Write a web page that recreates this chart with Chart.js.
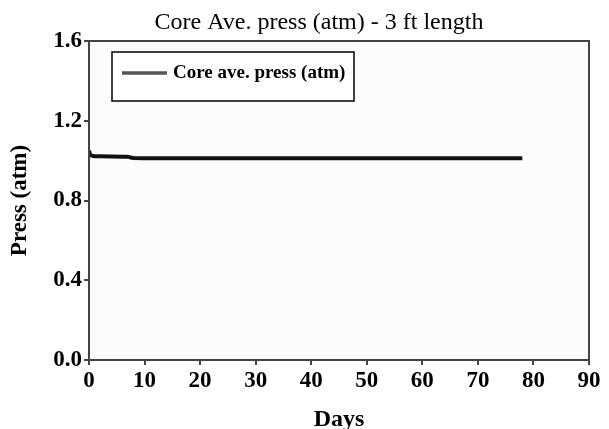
<!DOCTYPE html>
<html>
<head>
<meta charset="utf-8">
<script src="https://cdn.jsdelivr.net/npm/chart.js@4/dist/chart.umd.min.js"></script>
<style>
	body { margin: 0; background: #fff; }
	canvas { display: block; }
</style>
</head>
<body>
<canvas id="chart" width="609" height="429"></canvas>
<script>
// core average pressure vs time
var days = [0, 0.2, 0.5, 1, 2, 4, 6, 7, 7.5, 8, 10, 20, 30, 40, 50, 60, 70, 78];
var press = [1.05, 1.03, 1.025, 1.022, 1.022, 1.021, 1.02, 1.02, 1.016, 1.013, 1.012, 1.012, 1.012, 1.012, 1.012, 1.012, 1.012, 1.012];
var seriesName = 'Core ave. press (atm)';
var chartTitle = 'Core Ave. press (atm) - 3 ft length';
var xTicks = [0, 10, 20, 30, 40, 50, 60, 70, 80, 90];
var yTicks = [0, 0.4, 0.8, 1.2, 1.6];

var serif = '"Liberation Serif", "Times New Roman", serif';
var axisColor = '#444';

var points = [];
for (var i = 0; i < days.length; i++) {
	points.push({ x: days[i], y: press[i] });
}

// background + frame around the plot area
var frame = {
	id: 'frame',
	beforeDraw: function(chart) {
		var a = chart.chartArea, ctx = chart.ctx;
		ctx.save();
		ctx.fillStyle = '#fcfcfc';
		ctx.fillRect(a.left, a.top, a.right - a.left, a.bottom - a.top);
		ctx.restore();
	},
	afterDraw: function(chart) {
		var a = chart.chartArea, ctx = chart.ctx;
		ctx.save();
		ctx.strokeStyle = axisColor;
		ctx.lineWidth = 2;
		ctx.strokeRect(a.left, a.top, a.right - a.left, a.bottom - a.top);
		ctx.restore();
	}
};

// title above the plot
var topTitle = {
	id: 'topTitle',
	afterDraw: function(chart) {
		var ctx = chart.ctx;
		ctx.save();
		ctx.font = '24px ' + serif;
		ctx.fillStyle = '#000';
		ctx.textAlign = 'center';
		ctx.textBaseline = 'alphabetic';
		ctx.fillText(chartTitle, 319, 29);
		ctx.restore();
	}
};

// boxed legend inside the plot
var boxLegend = {
	id: 'boxLegend',
	afterDraw: function(chart) {
		var a = chart.chartArea, ctx = chart.ctx;
		var ds = chart.data.datasets[0];
		var x = a.left + 23, y = a.top + 11, w = 242, h = 49;
		ctx.save();
		ctx.fillStyle = '#fff';
		ctx.fillRect(x, y, w, h);
		ctx.strokeStyle = '#000';
		ctx.lineWidth = 1.5;
		ctx.strokeRect(x, y, w, h);
		ctx.strokeStyle = '#555';
		ctx.lineWidth = 3.5;
		ctx.beginPath();
		ctx.moveTo(x + 10, y + 21);
		ctx.lineTo(x + 55, y + 21);
		ctx.stroke();
		ctx.font = 'bold 19px ' + serif;
		ctx.fillStyle = '#000';
		ctx.textBaseline = 'middle';
		ctx.fillText(ds.label, x + 61, y + 21);
		ctx.restore();
	}
};

new Chart(document.getElementById('chart'), {
	type: 'line',
	data: {
		datasets: [{
			label: seriesName,
			data: points,
			borderColor: '#111',
			borderWidth: 4,
			pointRadius: 0,
			tension: 0,
			fill: false
		}]
	},
	options: {
		responsive: false,
		animation: false,
		layout: { padding: { top: 41, right: 20, left: 0, bottom: 0 } },
		plugins: {
			legend: { display: false },
			title: { display: false },
			tooltip: { enabled: false }
		},
		scales: {
			x: {
				type: 'linear',
				min: 0,
				max: 90,
				afterBuildTicks: function(scale) {
					scale.ticks = xTicks.map(function(v) { return { value: v }; });
				},
				afterFit: function(scale) { scale.height = 69; },
				grid: { drawOnChartArea: false, color: axisColor, lineWidth: 2, tickLength: 5 },
				border: { color: axisColor, width: 2 },
				ticks: {
					color: '#000',
					padding: 2,
					maxRotation: 0,
					font: { family: serif, size: 23, weight: 'bold' }
				},
				title: {
					display: true,
					text: 'Days',
					color: '#000',
					padding: { top: 0, bottom: 0 },
					font: { family: serif, size: 24, weight: 'bold', lineHeight: 0.8 }
				}
			},
			y: {
				min: 0,
				max: 1.6,
				afterBuildTicks: function(scale) {
					scale.ticks = yTicks.map(function(v) { return { value: v }; });
				},
				afterFit: function(scale) { scale.width = 89; },
				grid: { drawOnChartArea: false, color: axisColor, lineWidth: 2, tickLength: 5 },
				border: { color: axisColor, width: 2 },
				ticks: {
					color: '#000',
					padding: 2,
					font: { family: serif, size: 23, weight: 'bold' },
					callback: function(v) { return v.toFixed(1); }
				},
				title: {
					display: true,
					text: 'Press (atm)',
					color: '#000',
					padding: { top: 6, bottom: 0 },
					font: { family: serif, size: 23, weight: 'bold' }
				}
			}
		}
	},
	plugins: [frame, boxLegend, topTitle]
});
</script>
</body>
</html>
